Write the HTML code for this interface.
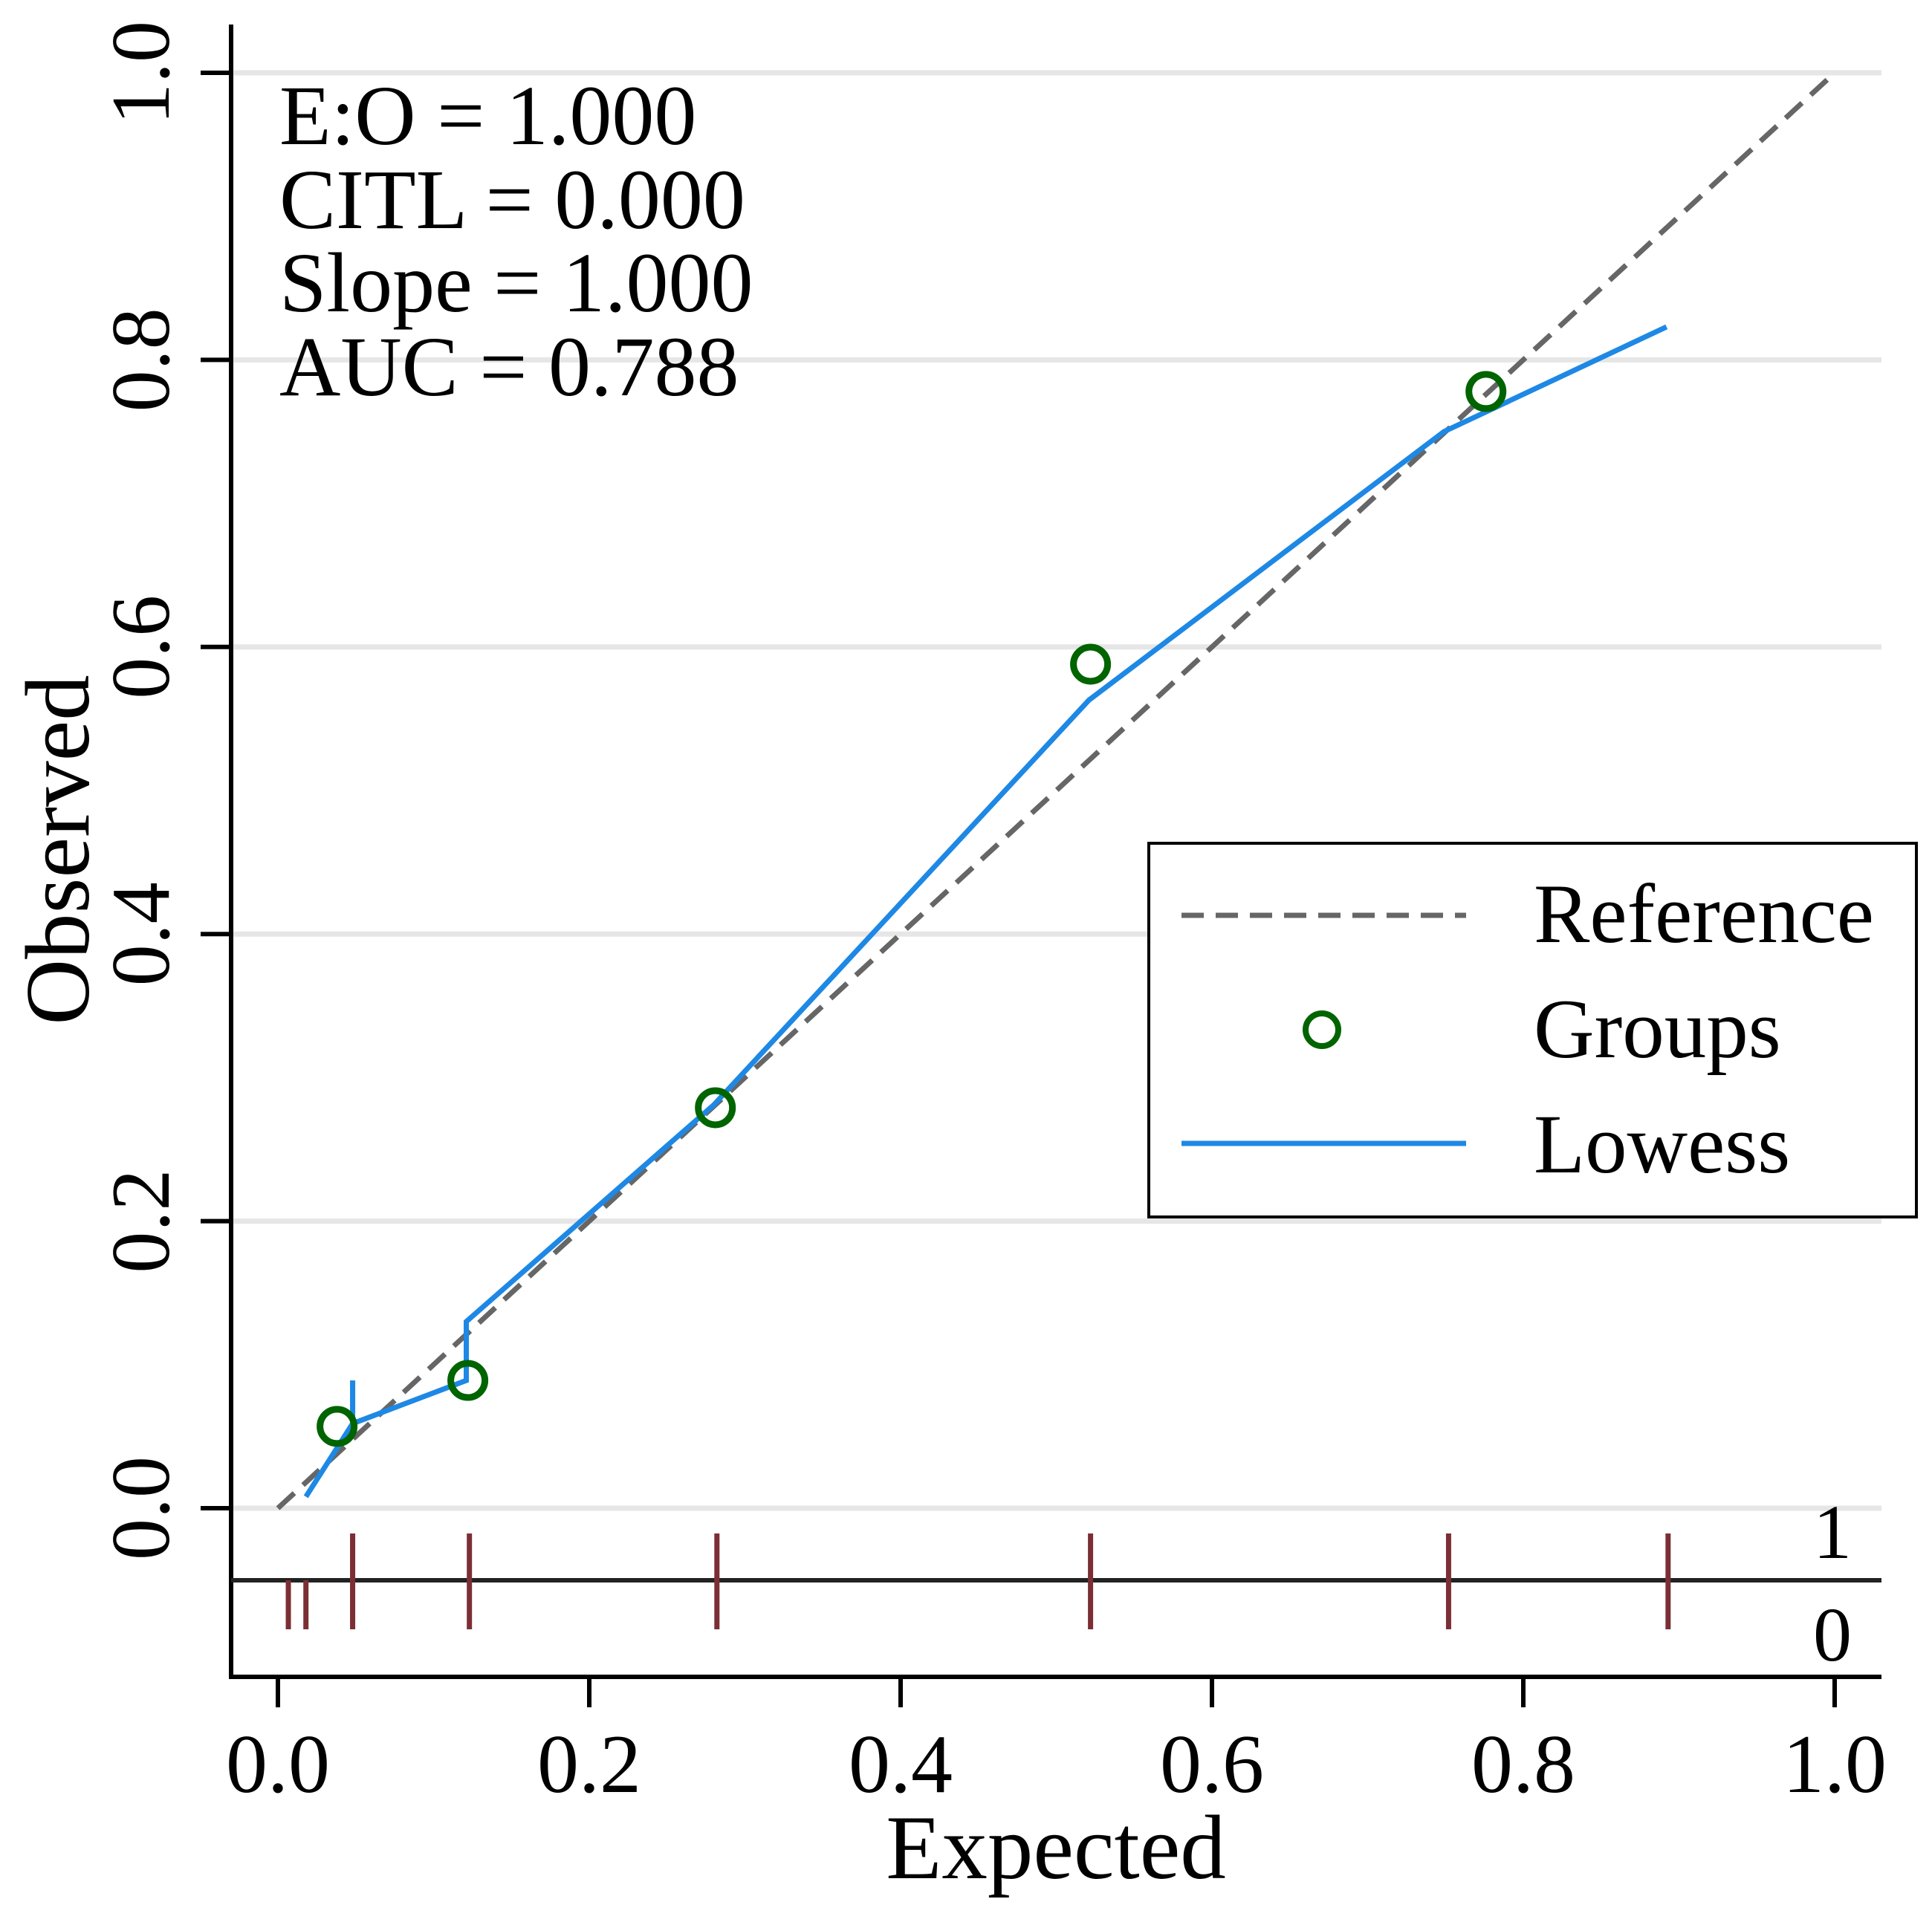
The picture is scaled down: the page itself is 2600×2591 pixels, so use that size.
<!DOCTYPE html>
<html><head><meta charset="utf-8"><style>
html,body{margin:0;padding:0;background:#fff;}
svg text{font-family:"Liberation Serif",serif;fill:#000;}
</style></head><body>
<svg id="chart" width="2600" height="2586" viewBox="0 0 2600 2586" xmlns="http://www.w3.org/2000/svg">
<g id="grid"></g>
<line x1="311" y1="33" x2="311" y2="2260" stroke="#000" stroke-width="6"/>
<line x1="308" y1="2257" x2="2532" y2="2257" stroke="#000" stroke-width="6"/>
<g id="yticks"></g>
<g id="xticks"></g>
<line x1="311" y1="2127" x2="2532" y2="2127" stroke="#222" stroke-width="6"/>
<g id="rug"></g>
<text x="2466" y="2097" font-size="104" text-anchor="middle">1</text>
<text x="2466" y="2235" font-size="104" text-anchor="middle">0</text>
<g id="series"></g>
<g font-size="114">
<text x="376" y="194">E:O = 1.000</text>
<text x="376" y="307">CITL = 0.000</text>
<text x="376" y="419">Slope = 1.000</text>
<text x="376" y="532">AUC = 0.788</text>
</g>
<text x="1421" y="2528" font-size="123" text-anchor="middle">Expected</text>
<text transform="translate(119,1144) rotate(-90)" font-size="123" text-anchor="middle">Observed</text>
<g>
<rect x="1546" y="1135" width="1033" height="503" fill="#fff" stroke="#000" stroke-width="4"/>
<line x1="1590" y1="1232" x2="1973" y2="1232" stroke="#666" stroke-width="7" stroke-dasharray="30,16"/>
<text x="2064" y="1268" font-size="113">Reference</text>
<circle cx="1779" cy="1386" r="22" fill="none" stroke="#006400" stroke-width="8"/>
<text x="2064" y="1423" font-size="113">Groups</text>
<line x1="1590" y1="1539" x2="1973" y2="1539" stroke="#1e88e5" stroke-width="7"/>
<text x="2064" y="1578" font-size="113">Lowess</text>
</g>
</svg>
<script>
const ticks=[0,0.2,0.4,0.6,0.8,1.0];
const tickLabels=["0.0","0.2","0.4","0.6","0.8","1.0"];
const groupX=[0.038,0.122,0.281,0.522,0.776];
const groupY=[0.057,0.089,0.279,0.588,0.778];
const lowessX=[0.018,0.048,0.048,0.048,0.121,0.121,0.121,0.280,0.521,0.749,0.892];
const lowessY=[0.008,0.059,0.089,0.059,0.089,0.089,0.130,0.281,0.563,0.750,0.823];
const rugBoth=[0.048,0.123,0.282,0.522,0.752,0.893];
const rugZero=[0.0067,0.018];
const NS='http://www.w3.org/2000/svg';
const sx=v=>374+v*2095;
const sy=v=>2030-v*1932;
function mk(t,a,p){const e=document.createElementNS(NS,t);for(const k in a)e.setAttribute(k,a[k]);p.appendChild(e);return e;}
const grid=document.getElementById('grid'),yt=document.getElementById('yticks'),xt=document.getElementById('xticks');
ticks.forEach((v,i)=>{
 const g=mk('line',{x1:311,x2:2532,y1:sy(v),y2:sy(v),stroke:'#e6e6e6','stroke-width':7},grid);
 
 
 const t=mk('line',{x1:270,x2:311,y1:sy(v),y2:sy(v),stroke:'#000','stroke-width':6},yt);
 
 
 const l=mk('text',{transform:`translate(227,${sy(v)}) rotate(-90)`,'font-size':112,'text-anchor':'middle'},yt);
 l.textContent=tickLabels[i];
 
 
 const xt1=mk('line',{x1:sx(v),x2:sx(v),y1:2257,y2:2298,stroke:'#000','stroke-width':6},xt);
 
 
 const xl=mk('text',{x:sx(v),y:2412,'font-size':112,'text-anchor':'middle'},xt);
 xl.textContent=tickLabels[i];
 
 
});
const rug=document.getElementById('rug');
rugBoth.forEach(v=>{const r=mk('line',{x1:sx(v),x2:sx(v),y1:2064,y2:2193,stroke:'#7b2f35','stroke-width':7},rug);
 
 });
rugZero.forEach(v=>{const r=mk('line',{x1:sx(v),x2:sx(v),y1:2127,y2:2193,stroke:'#7b2f35','stroke-width':7},rug);
 
 });
const s=document.getElementById('series');
const ref=mk('line',{x1:sx(0),y1:sy(0),x2:sx(1),y2:sy(1),stroke:'#666','stroke-width':7,'stroke-dasharray':'30,16'},s);


const lw=mk('polyline',{points:lowessX.map((x,i)=>sx(x)+','+sy(lowessY[i])).join(' '),fill:'none',stroke:'#1e88e5','stroke-width':7,'stroke-linejoin':'miter'},s);


groupX.forEach((x,i)=>{const c=mk('circle',{cx:sx(x),cy:sy(groupY[i]),r:23,fill:'none',stroke:'#006400','stroke-width':9},s);
 
 });
</script>
</body></html>
